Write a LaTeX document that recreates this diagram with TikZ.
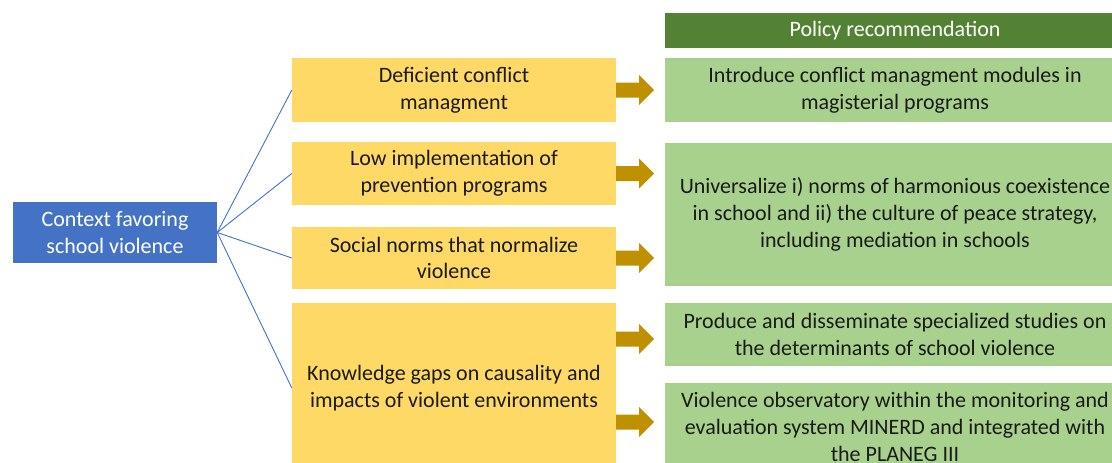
\documentclass[tikz,border=0pt]{standalone}
\usepackage{fontspec}
\setmainfont{Carlito}
\definecolor{ctxblue}{HTML}{4472C4}
\definecolor{causeyellow}{HTML}{FFD966}
\definecolor{recgreen}{HTML}{A9D18E}
\definecolor{headgreen}{HTML}{548235}
\definecolor{arrowgold}{HTML}{BF9000}
\definecolor{bodytext}{HTML}{1A1A1A}
\tikzset{
  box/.style={rectangle, inner sep=0pt, align=center, text=bodytext,
    font=\fontsize{22}{26.8}\selectfont},
  ctxbox/.style={box, fill=ctxblue, text=white, minimum width=204, minimum height=61},
  causebox/.style={box, fill=causeyellow, minimum width=324},
  recbox/.style={box, fill=recgreen, minimum width=460},
  headbox/.style={box, fill=headgreen, text=white, minimum width=460, minimum height=35},
  link/.style={draw=ctxblue, line width=0.9pt},
  blockarrow/.style={fill=arrowgold}
}
% block arrow starting at a point on a yellow box's right edge
\newcommand{\goldarrow}[1]{%
  \fill[blockarrow] (#1) ++(0,-7.5) -- ++(23,0) -- ++(0,-7.5) -- ++(15,15)
    -- ++(-15,15) -- ++(0,-7.5) -- ++(-23,0) -- cycle;}
\begin{document}
\begin{tikzpicture}[x=1pt,y=-1pt]
\useasboundingbox (0,0) rectangle (1112,463);
\clip (0,0) rectangle (1112,463);

% context
\node[ctxbox] (ctx) at (115,232.5) {Context favoring\\school violence};

% causes
\node[causebox, minimum height=64] (c1) at (454,90) {Deficient conflict\\managment};
\node[causebox, minimum height=63] (c2) at (454,173.5) {Low implementation of\\prevention programs};
\node[causebox, minimum height=62] (c3) at (454,258) {Social norms that normalize\\violence};
\node[causebox, minimum height=170] (c4) at (454,388) {Knowledge gaps on causality and\\impacts of violent environments};

% recommendations
\node[headbox] (head) at (895,30.5) {Policy recommendation};
\node[recbox, minimum height=64] (r1) at (895,90) {Introduce conflict managment modules in\\magisterial programs};
\node[recbox, minimum height=143] (r2) at (895,214.5) {Universalize i) norms of harmonious coexistence\\in school and ii) the culture of peace strategy,\\including mediation in schools};
\node[recbox, minimum height=63] (r3) at (895,334.5) {Produce and disseminate specialized studies on\\the determinants of school violence};
\node[recbox, minimum height=88] (r4) at (895,427) {Violence observatory within the monitoring and\\evaluation system MINERD and integrated with\\the PLANEG III};

% connectors from the context box
\foreach \c in {c1,c2,c3,c4} \draw[link] (ctx.east) -- (\c.west);

% arrows from causes to recommendations
\coordinate (a1) at (c1.east);
\coordinate (a2) at (c2.east);
\coordinate (a3) at (c3.east |- 0,258);
\coordinate (a4) at (c4.east |- 0,339);
\coordinate (a5) at (c4.east |- 0,422);
\goldarrow{a1}
\goldarrow{a2}
\goldarrow{a3}
\goldarrow{a4}
\goldarrow{a5}
\end{tikzpicture}
\end{document}
